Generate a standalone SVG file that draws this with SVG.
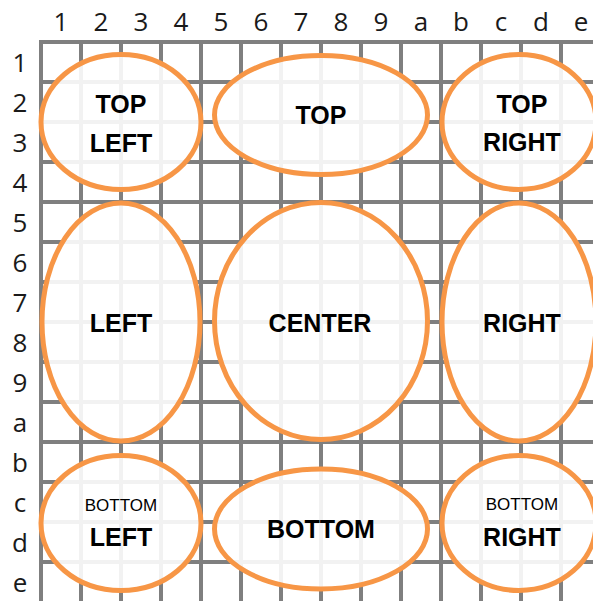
<svg xmlns="http://www.w3.org/2000/svg" width="593" height="601" viewBox="0 0 593 601">
<style>
.grid line{stroke:#7f7f7f;stroke-width:4}
.lbl{font-family:"Open Sans","Liberation Sans",sans-serif;font-size:26px;fill:#1a1a1a;text-anchor:middle}
.node ellipse{fill:#fff;fill-opacity:0.9;stroke:#f79646;stroke-width:5}
.t{font-family:"Liberation Sans",Arial,sans-serif;font-weight:bold;font-size:25px;fill:#000;text-anchor:middle}
.s{font-family:"Liberation Sans",Arial,sans-serif;font-size:17px;fill:#000;text-anchor:middle}
</style>
<rect width="593" height="601" fill="#fff"/>
<g class="grid">
<line x1="41" y1="42" x2="41" y2="601"/><line x1="81" y1="42" x2="81" y2="601"/><line x1="121" y1="42" x2="121" y2="601"/><line x1="161" y1="42" x2="161" y2="601"/><line x1="201" y1="42" x2="201" y2="601"/><line x1="241" y1="42" x2="241" y2="601"/><line x1="281" y1="42" x2="281" y2="601"/><line x1="321" y1="42" x2="321" y2="601"/><line x1="361" y1="42" x2="361" y2="601"/><line x1="401" y1="42" x2="401" y2="601"/><line x1="441" y1="42" x2="441" y2="601"/><line x1="481" y1="42" x2="481" y2="601"/><line x1="521" y1="42" x2="521" y2="601"/><line x1="561" y1="42" x2="561" y2="601"/>
<line x1="39" y1="42" x2="593" y2="42"/><line x1="41" y1="82" x2="593" y2="82"/><line x1="41" y1="122" x2="593" y2="122"/><line x1="41" y1="162" x2="593" y2="162"/><line x1="41" y1="202" x2="593" y2="202"/><line x1="41" y1="242" x2="593" y2="242"/><line x1="41" y1="282" x2="593" y2="282"/><line x1="41" y1="322" x2="593" y2="322"/><line x1="41" y1="362" x2="593" y2="362"/><line x1="41" y1="402" x2="593" y2="402"/><line x1="41" y1="442" x2="593" y2="442"/><line x1="41" y1="482" x2="593" y2="482"/><line x1="41" y1="522" x2="593" y2="522"/><line x1="41" y1="562" x2="593" y2="562"/>
</g>
<g id="col-labels">
<text class="lbl" x="61" y="31">1</text><text class="lbl" x="101" y="31">2</text><text class="lbl" x="141" y="31">3</text><text class="lbl" x="181" y="31">4</text><text class="lbl" x="221" y="31">5</text><text class="lbl" x="261" y="31">6</text><text class="lbl" x="301" y="31">7</text><text class="lbl" x="341" y="31">8</text><text class="lbl" x="381" y="31">9</text><text class="lbl" x="421" y="31">a</text><text class="lbl" x="461" y="31">b</text><text class="lbl" x="501" y="31">c</text><text class="lbl" x="541" y="31">d</text><text class="lbl" x="581" y="31">e</text>
</g>
<g id="row-labels">
<text class="lbl" x="20" y="72">1</text><text class="lbl" x="20" y="112">2</text><text class="lbl" x="20" y="152">3</text><text class="lbl" x="20" y="192">4</text><text class="lbl" x="20" y="232">5</text><text class="lbl" x="20" y="272">6</text><text class="lbl" x="20" y="312">7</text><text class="lbl" x="20" y="352">8</text><text class="lbl" x="20" y="392">9</text><text class="lbl" x="20" y="432">a</text><text class="lbl" x="20" y="472">b</text><text class="lbl" x="20" y="512">c</text><text class="lbl" x="20" y="552">d</text><text class="lbl" x="20" y="592">e</text>
</g>
<g id="connectors"></g>
<g id="top-left" class="node"><ellipse cx="121" cy="122" rx="80" ry="67.5"/><text class="t" x="121" y="113">TOP</text><text class="t" x="121" y="152">LEFT</text></g>
<g id="top" class="node"><ellipse cx="321" cy="115" rx="106.5" ry="59.5"/><text class="t" x="321" y="124">TOP</text></g>
<g id="top-right" class="node"><ellipse cx="519" cy="122" rx="77" ry="67.5"/><text class="t" x="522" y="113">TOP</text><text class="t" x="522" y="151">RIGHT</text></g>
<g id="left" class="node"><ellipse cx="121" cy="322" rx="79" ry="119"/><text class="t" x="121" y="332">LEFT</text></g>
<g id="center" class="node"><ellipse cx="321" cy="321" rx="106.5" ry="118.5"/><text class="t" x="320" y="332">CENTER</text></g>
<g id="right" class="node"><ellipse cx="519" cy="322" rx="77" ry="119"/><text class="t" x="522" y="332">RIGHT</text></g>
<g id="bottom-left" class="node"><ellipse cx="121" cy="523" rx="80" ry="67.5"/><text class="s" x="121" y="511">BOTTOM</text><text class="t" x="121" y="546">LEFT</text></g>
<g id="bottom" class="node"><ellipse cx="321" cy="529" rx="106.5" ry="60"/><text class="t" x="321" y="538">BOTTOM</text></g>
<g id="bottom-right" class="node"><ellipse cx="519" cy="523" rx="77" ry="67.5"/><text class="s" x="522" y="510">BOTTOM</text><text class="t" x="522" y="546">RIGHT</text></g>
</svg>
